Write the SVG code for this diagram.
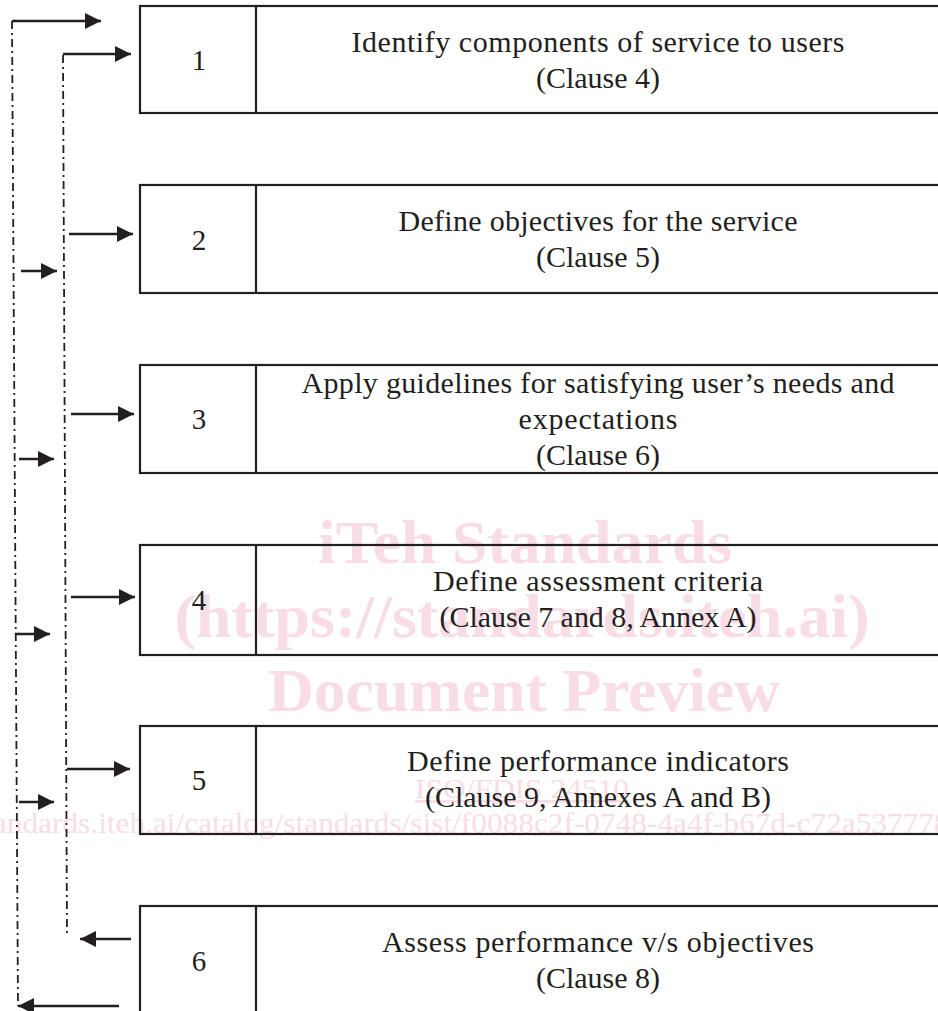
<svg xmlns="http://www.w3.org/2000/svg" width="938" height="1011" viewBox="0 0 938 1011">
<style>
.box{fill:none;stroke:#231f20;stroke-width:2.2}
.t{font-family:"Liberation Serif","Times New Roman",serif;font-size:30px;fill:#231f20;text-anchor:middle}
.n{font-family:"Liberation Serif","Times New Roman",serif;font-size:29px;fill:#231f20;text-anchor:middle}
.dd{fill:none;stroke:#231f20;stroke-width:1.8;stroke-dasharray:8 4 2 4}
.ar{fill:none;stroke:#231f20;stroke-width:2.4}
.wm{font-family:"Liberation Serif","Times New Roman",serif;font-weight:bold;fill:#f8dde6;text-anchor:middle}
.wm2{font-family:"Liberation Serif","Times New Roman",serif;fill:#f8dde6}
</style>
<defs>
<marker id="ah" markerUnits="userSpaceOnUse" markerWidth="16" markerHeight="16" refX="16" refY="8" orient="auto">
<path d="M0,0 L16,8 L0,16 Z" fill="#231f20"/>
</marker>
</defs>
<rect width="938" height="1011" fill="#ffffff"/>
<g id="watermark">
<text class="wm" x="525" y="563" font-size="62" textLength="414" lengthAdjust="spacingAndGlyphs">iTeh Standards</text>
<text class="wm" x="522" y="637" font-size="62" textLength="695" lengthAdjust="spacingAndGlyphs">(https://standards.iteh.ai)</text>
<text class="wm" x="524" y="711" font-size="62" textLength="512" lengthAdjust="spacingAndGlyphs">Document Preview</text>
<text class="wm2" x="522" y="798" font-size="27" text-anchor="middle" text-decoration="underline" textLength="214" lengthAdjust="spacingAndGlyphs">ISO/FDIS 24510</text>
<text class="wm2" x="-28" y="833" font-size="30" textLength="1009" lengthAdjust="spacingAndGlyphs">standards.iteh.ai/catalog/standards/sist/f0088c2f-0748-4a4f-b67d-c72a53777808</text>
</g>
<g id="node1">
<rect class="box" x="140" y="6" width="802" height="107"/>
<line class="box" x1="256" y1="6" x2="256" y2="113"/>
<text class="n" x="199" y="70">1</text>
<text class="t" x="598" y="52" textLength="493">Identify components of service to users</text>
<text class="t" x="598" y="88" textLength="124">(Clause 4)</text>
</g>
<g id="node2">
<rect class="box" x="140" y="185" width="802" height="108"/>
<line class="box" x1="256" y1="185" x2="256" y2="293"/>
<text class="n" x="199" y="250">2</text>
<text class="t" x="598" y="231" textLength="399">Define objectives for the service</text>
<text class="t" x="598" y="267" textLength="124">(Clause 5)</text>
</g>
<g id="node3">
<rect class="box" x="140" y="365" width="802" height="108"/>
<line class="box" x1="256" y1="365" x2="256" y2="473"/>
<text class="n" x="199" y="429">3</text>
<text class="t" x="598" y="393" textLength="593">Apply guidelines for satisfying user’s needs and</text>
<text class="t" x="598" y="429" textLength="159">expectations</text>
<text class="t" x="598" y="465" textLength="124">(Clause 6)</text>
</g>
<g id="node4">
<rect class="box" x="140" y="545" width="802" height="110"/>
<line class="box" x1="256" y1="545" x2="256" y2="655"/>
<text class="n" x="199" y="610">4</text>
<text class="t" x="598" y="591" textLength="330">Define assessment criteria</text>
<text class="t" x="598" y="627" textLength="317">(Clause 7 and 8, Annex A)</text>
</g>
<g id="node5">
<rect class="box" x="140" y="726" width="802" height="108"/>
<line class="box" x1="256" y1="726" x2="256" y2="834"/>
<text class="n" x="199" y="790">5</text>
<text class="t" x="598" y="771" textLength="382">Define performance indicators</text>
<text class="t" x="598" y="807" textLength="346">(Clause 9, Annexes A and B)</text>
</g>
<g id="node6">
<rect class="box" x="140" y="906" width="802" height="120"/>
<line class="box" x1="256" y1="906" x2="256" y2="1026"/>
<text class="n" x="199" y="971">6</text>
<text class="t" x="598" y="952" textLength="432">Assess performance v/s objectives</text>
<text class="t" x="598" y="988" textLength="124">(Clause 8)</text>
</g>
<g id="connectors">
<line class="dd" x1="12" y1="21" x2="18" y2="1006"/>
<line class="dd" x1="63" y1="55" x2="67" y2="937"/>
<line class="ar" x1="12" y1="21" x2="101" y2="21" marker-end="url(#ah)"/>
<line class="ar" x1="63" y1="54" x2="131" y2="54" marker-end="url(#ah)"/>
<line class="ar" x1="69" y1="234" x2="133" y2="234" marker-end="url(#ah)"/>
<line class="ar" x1="71" y1="414" x2="134" y2="414" marker-end="url(#ah)"/>
<line class="ar" x1="71" y1="597" x2="135" y2="597" marker-end="url(#ah)"/>
<line class="ar" x1="67" y1="769" x2="130" y2="769" marker-end="url(#ah)"/>
<line class="ar" x1="21" y1="271" x2="57" y2="271" marker-end="url(#ah)"/>
<line class="ar" x1="19" y1="459" x2="54" y2="459" marker-end="url(#ah)"/>
<line class="ar" x1="15" y1="634" x2="50" y2="634" marker-end="url(#ah)"/>
<line class="ar" x1="19" y1="802" x2="54" y2="802" marker-end="url(#ah)"/>
<line class="ar" x1="131" y1="939" x2="80" y2="939" marker-end="url(#ah)"/>
<line class="ar" x1="119" y1="1006" x2="18" y2="1006" marker-end="url(#ah)"/>
</g>
</svg>
